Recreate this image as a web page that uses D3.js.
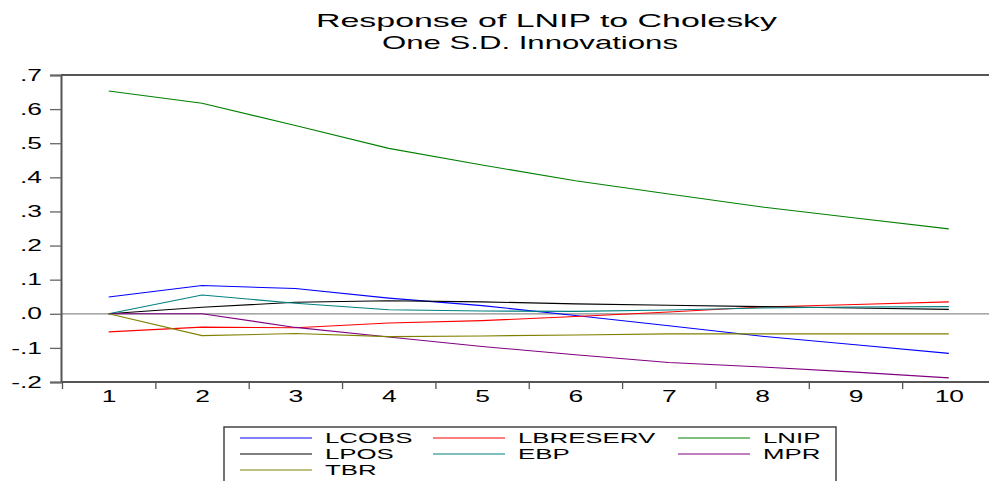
<!DOCTYPE html>
<html>
<head>
<meta charset="utf-8">
<script src="https://cdn.jsdelivr.net/npm/d3@7"></script>
<style>
  html, body { margin: 0; padding: 0; background: #fff; }
  svg { display: block; font-family: "Liberation Sans", Arial, sans-serif; }
</style>
</head>
<body>
<svg id="chart" width="989" height="481"></svg>
<script>
// Impulse responses of LNIP, periods 1..10
const periods = [1, 2, 3, 4, 5, 6, 7, 8, 9, 10];
const seriesNames = ["LCOBS", "LBRESERV", "LNIP", "LPOS", "EBP", "MPR", "TBR"];
const seriesColors = ["#0000ff", "#ff0000", "#008000", "#000000", "#008080", "#800080", "#808000"];
const lcobs    = [0.049, 0.083, 0.074, 0.046, 0.024, -0.005, -0.035, -0.066, -0.091, -0.116];
const lbreserv = [-0.053, -0.039, -0.041, -0.027, -0.020, -0.008, 0.005, 0.020, 0.027, 0.035];
const lnip     = [0.653, 0.617, 0.552, 0.485, 0.436, 0.390, 0.351, 0.313, 0.281, 0.249];
const lpos     = [0.000, 0.019, 0.034, 0.038, 0.035, 0.029, 0.025, 0.021, 0.017, 0.013];
const ebp      = [0.000, 0.055, 0.031, 0.012, 0.008, 0.007, 0.011, 0.017, 0.020, 0.021];
const mpr      = [0.000, 0.000, -0.040, -0.068, -0.096, -0.120, -0.143, -0.156, -0.171, -0.188];
const tbr      = [0.000, -0.064, -0.058, -0.067, -0.065, -0.062, -0.059, -0.059, -0.059, -0.059];
const yTicks = [-0.2, -0.1, 0.0, 0.1, 0.2, 0.3, 0.4, 0.5, 0.6, 0.7];
const yTickLabels = ["-.2", "-.1", ".0", ".1", ".2", ".3", ".4", ".5", ".6", ".7"];
const titleLines = ["Response of LNIP to Cholesky", "One S.D. Innovations"];

const seriesValues = [lcobs, lbreserv, lnip, lpos, ebp, mpr, tbr];
const SX = 1.65; // horizontal stretch of all lettering

const svg = d3.select("#chart");
const plotLeft = 61, plotTop = 75, plotBottom = 382;

const x = d3.scaleLinear().domain([0.5, 10.5]).range([62, 995.5]);
const y = d3.scaleLinear().domain([-0.2, 0.7]).range([plotBottom, plotTop]);

function stretch(sel, k = SX) {
  sel.each(function () {
    const t = d3.select(this);
    const tx = +t.attr("x") || 0;
    t.attr("x", tx / k).attr("transform", `scale(${k},1)`);
  });
}

// Title
svg.append("text").attr("x", 316).attr("y", 27)
  .attr("font-size", 19).attr("fill", "#000")
  .attr("textLength", 461).attr("lengthAdjust", "spacingAndGlyphs")
  .text(titleLines[0]);
svg.append("text").attr("x", 382).attr("y", 49)
  .attr("font-size", 19).attr("fill", "#000")
  .attr("textLength", 296).attr("lengthAdjust", "spacingAndGlyphs")
  .text(titleLines[1]);

// Zero line
svg.append("line")
  .attr("x1", plotLeft).attr("x2", 989)
  .attr("y1", y(0)).attr("y2", y(0))
  .attr("stroke", "#8c8c8c").attr("stroke-width", 1.3);

// Series lines
const line = d3.line().x((d, i) => x(periods[i])).y(d => y(d));
seriesValues.forEach((vals, k) => {
  svg.append("path").datum(vals)
    .attr("d", line)
    .attr("fill", "none")
    .attr("stroke", seriesColors[k])
    .attr("stroke-width", 1.1);
});

// Frame: top edge
svg.append("line")
  .attr("x1", plotLeft).attr("x2", 989).attr("y1", plotTop).attr("y2", plotTop)
  .attr("stroke", "#555").attr("stroke-width", 2);

// Y axis
const yAxis = svg.append("g").attr("transform", `translate(${plotLeft},0)`)
  .call(d3.axisLeft(y).tickValues(yTicks)
    .tickFormat((d, i) => yTickLabels[i]).tickSize(11).tickPadding(8));
yAxis.select(".domain").attr("stroke", "#555").attr("stroke-width", 2);
yAxis.selectAll(".tick line").attr("stroke", "#666").attr("stroke-width", 1.3);
yAxis.selectAll(".tick text").attr("font-size", 16).attr("fill", "#000")
  .attr("font-family", "Liberation Sans, Arial, sans-serif").call(stretch);

// X axis: tick marks between periods
const edges = d3.range(0.5, 11, 1);
const xTicksAxis = svg.append("g").attr("transform", `translate(0,${plotBottom})`)
  .call(d3.axisBottom(x).tickValues(edges).tickFormat("").tickSize(7));
xTicksAxis.select(".domain").remove();
xTicksAxis.selectAll(".tick line").attr("stroke", "#555").attr("stroke-width", 1.3);
svg.append("line")
  .attr("x1", plotLeft).attr("x2", 989).attr("y1", plotBottom).attr("y2", plotBottom)
  .attr("stroke", "#555").attr("stroke-width", 2);

// X axis labels at period centers
const xLabels = svg.append("g").attr("transform", `translate(0,${plotBottom})`)
  .call(d3.axisBottom(x).tickValues(periods).tickFormat(d3.format("d")).tickSize(0).tickPadding(9));
xLabels.select(".domain").remove();
xLabels.selectAll(".tick text").attr("font-size", 16).attr("fill", "#000")
  .attr("font-family", "Liberation Sans, Arial, sans-serif").call(stretch);

// Legend
const legend = svg.append("g");
legend.append("path")
  .attr("d", "M224,490 V427 H836 V490")
  .attr("fill", "none").attr("stroke", "#444").attr("stroke-width", 1.5);
const colLine = [240, 433, 678];
const colText = [325, 518, 763];
const rowY = [438, 454, 470];
seriesNames.forEach((name, i) => {
  const c = i % 3, r = Math.floor(i / 3);
  legend.append("line")
    .attr("x1", colLine[c]).attr("x2", colLine[c] + 72)
    .attr("y1", rowY[r]).attr("y2", rowY[r])
    .attr("stroke", seriesColors[i]).attr("stroke-width", 1.1);
  legend.append("text")
    .attr("x", colText[c]).attr("y", rowY[r] + 5.5)
    .attr("font-size", 15).attr("fill", "#000")
    .call(stretch, 1.72)
    .text(name);
});
</script>
</body>
</html>
